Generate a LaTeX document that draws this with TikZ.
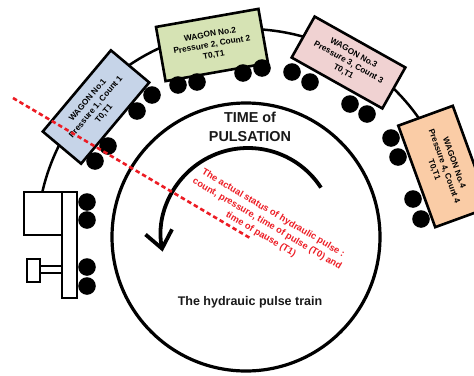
\documentclass[tikz,border=0pt]{standalone}
\usepackage{fontspec}
\setmainfont{Liberation Sans}
\usetikzlibrary{arrows.meta}
\definecolor{wblue}{RGB}{198,212,232}
\definecolor{wgreen}{RGB}{214,227,180}
\definecolor{wpink}{RGB}{240,210,210}
\definecolor{wpeach}{RGB}{250,204,166}
\definecolor{pred}{RGB}{237,28,36}
\tikzset{
  wagon/.style={draw=black, line width=2.6pt, inner sep=0pt, align=center,
    font=\fontsize{8.3}{10.6}\selectfont\bfseries},
  wheel/.style={fill=black},
  bld/.style={draw=black, fill=white, line width=2.2pt},
  track/.style={draw=black, line width=2.5pt},
}
\begin{document}
\begin{tikzpicture}[x=1pt,y=-1pt]
\useasboundingbox[fill=white] (0,0) rectangle (474,375);
\coordinate (oc) at (247,239);
\coordinate (ic) at (246,237);
\coordinate (ac) at (248,235);
% outer track
\draw[track] ([shift={(25:210pt)}]oc) arc[start angle=25, end angle=167, radius=210pt];
% inner circle
\draw[line width=3.2pt] (ic) circle[radius=134pt];
% curved arrow
\draw[line width=3.8pt, -{Straight Barb[length=17pt, width=27pt]}] ([shift={(33:87pt)}]ac) arc[start angle=33, end angle=191, radius=87pt];
% wagons
\node[wagon, fill=wblue, minimum width=106pt, minimum height=50pt, rotate=50] (w1) at (96,107) {WAGON No.1\\Pressure 1, Count 1\\T0,T1};
\node[wagon, fill=wgreen, minimum width=104pt, minimum height=55pt, rotate=10] (w2) at (212,45) {WAGON No.2\\Pressure 2, Count 2\\T0,T1};
\node[wagon, fill=wpink, minimum width=104pt, minimum height=47pt, rotate=-29.3] (w3) at (348.5,62.5) {WAGON No.3\\Pressure 3, Count 3\\T0,T1};
\node[wagon, fill=wpeach, minimum width=108pt, minimum height=58pt, rotate=-70] (w4) at (444,166.5) {WAGON No.4\\Pressure 4, Count 4\\T0,T1};
% wheels
\foreach \p in {(152,95),(137,111),(108,146),(95,161),
                (178,85),(197,82),(243,73),(262,68),
                (292,72),(310,82),(350,104),(367,114),
                (391,138),(398,157),(413,199),(421,219),
                (87,202),(87,220),(87,267),(87,286)}
  \fill[wheel] \p circle[radius=8.8pt];
% building
\draw[bld] (24,192) rectangle (62,235);
\draw[bld] (62,192) rectangle (77,298);
\draw[bld] (27,259) rectangle (40,282);
\draw[bld] (40,266) rectangle (62,273);
% texts
\node[align=center, font=\fontsize{14.4}{19}\selectfont\bfseries, text=black!90] (tp) at (250,127) {TIME of\\PULSATION};
\node[font=\fontsize{12.5}{15}\selectfont\bfseries, text=black!90] (hpt) at (250,302) {The hydrauic pulse train};
\node[align=center, font=\fontsize{9.3}{12.2}\selectfont\bfseries, text=pred, rotate=-30.5] (status) at (267,224) {The actual status of hydraulic pulse :\\count, pressure, time of pulse (T0) and\\time of pause (T1)};
% red dashed line
\coordinate (d1) at (13,98);
\coordinate (d2) at (250,238);
\draw[pred, line width=2.6pt, dash pattern=on 4.5pt off 3pt] (d1) -- (d2);
\end{tikzpicture}
\end{document}
